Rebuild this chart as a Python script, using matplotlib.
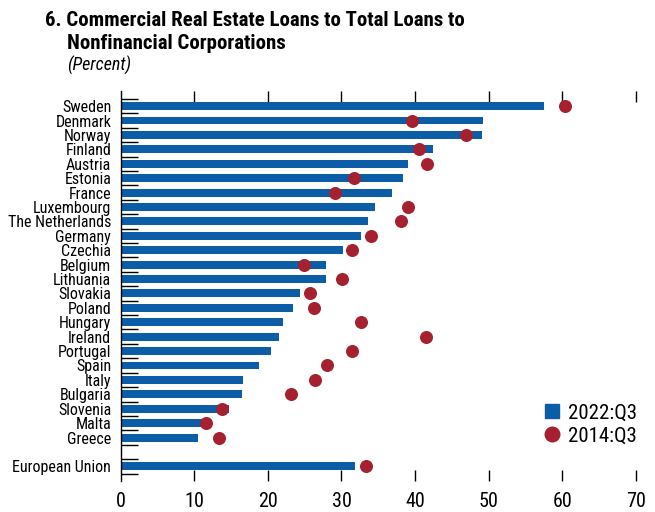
import matplotlib.pyplot as plt
from matplotlib import font_manager
from matplotlib.lines import Line2D
import numpy as np

# pick a condensed face if one is installed, else a plain sans
available = {f.name for f in font_manager.fontManager.ttflist}
prefs = ["Roboto Condensed", "Archivo Narrow", "PT Sans Narrow", "Liberation Sans Narrow",
         "Arial Narrow", "Liberation Sans"]
font = next((p for p in prefs if p in available), "DejaVu Sans")
plt.rcParams["font.family"] = [font, "DejaVu Sans"]

countries = ["Sweden", "Denmark", "Norway", "Finland", "Austria", "Estonia", "France",
             "Luxembourg", "The Netherlands", "Germany", "Czechia", "Belgium", "Lithuania",
             "Slovakia", "Poland", "Hungary", "Ireland", "Portugal", "Spain", "Italy",
             "Bulgaria", "Slovenia", "Malta", "Greece", "European Union"]
val_2022 = [57.6, 49.3, 49.1, 42.5, 39.0, 38.3, 36.8, 34.5, 33.6, 32.6, 30.2, 27.9, 27.9,
            24.3, 23.4, 22.0, 21.5, 20.4, 18.8, 16.6, 16.5, 14.7, 12.0, 10.5, 31.9]
val_2014 = [60.4, 39.6, 46.9, 40.5, 41.6, 31.7, 29.1, 39.1, 38.1, 34.0, 31.4, 24.9, 30.1,
            25.7, 26.2, 32.6, 41.5, 31.4, 28.0, 26.4, 23.1, 13.7, 11.6, 13.4, 33.3]

blue = "#0B5DA8"
red = "#A6212F"

# rows; leave an empty row before the EU
ypos = np.array(list(range(24)) + [25])

fig = plt.figure(figsize=(6.55, 5.12), dpi=100)
ax = fig.add_axes([0.1845, 0.061, 0.786, 0.761])

ax.barh(ypos, val_2022, height=0.55, color=blue, zorder=2)
ax.scatter(val_2014, ypos, s=88, color=red, zorder=3, linewidths=0)

ax.set_xlim(0, 70)
ax.set_ylim(26.0, -1.04)

for s in ["top", "right", "bottom"]:
    ax.spines[s].set_visible(False)
ax.spines["left"].set_linewidth(1.0)

ax.set_xticks(np.arange(0, 80, 10))
ax.tick_params(axis="x", which="major", direction="in", top=True, bottom=True,
               length=8, width=1.0, labelsize=14.5, pad=8)
ax.set_yticks(ypos)
ax.set_yticklabels(countries)
ax.tick_params(axis="y", which="major", length=0, labelsize=11.5, pad=7)
ax.set_yticks(np.arange(-0.5, 26, 1.0), minor=True)
ax.tick_params(axis="y", which="minor", direction="in", length=12, width=1.0)

# no tick mark at 0 on the top and bottom edges
xt = ax.xaxis.get_major_ticks()
xt[0].tick1line.set_visible(False)
xt[0].tick2line.set_visible(False)

handles = [Line2D([], [], marker="s", linestyle="none", color=blue, markersize=10.5),
           Line2D([], [], marker="o", linestyle="none", color=red, markersize=10.5)]
ax.legend(handles, ["2022:Q3", "2014:Q3"], loc="lower right", bbox_to_anchor=(1.03, 0.053),
          frameon=False, fontsize=15, handlelength=0.8, handletextpad=0.35,
          labelspacing=0.2, borderpad=0.2)

fig.text(0.069, 0.949, "6. Commercial Real Estate Loans to Total Loans to",
         fontsize=15, fontweight="bold", va="baseline")
fig.text(0.102, 0.904, "Nonfinancial Corporations", fontsize=15, fontweight="bold",
         va="baseline")
fig.text(0.102, 0.861, "(Percent)", fontsize=13, style="italic", va="baseline")

fig.savefig("out.png", dpi=100)
